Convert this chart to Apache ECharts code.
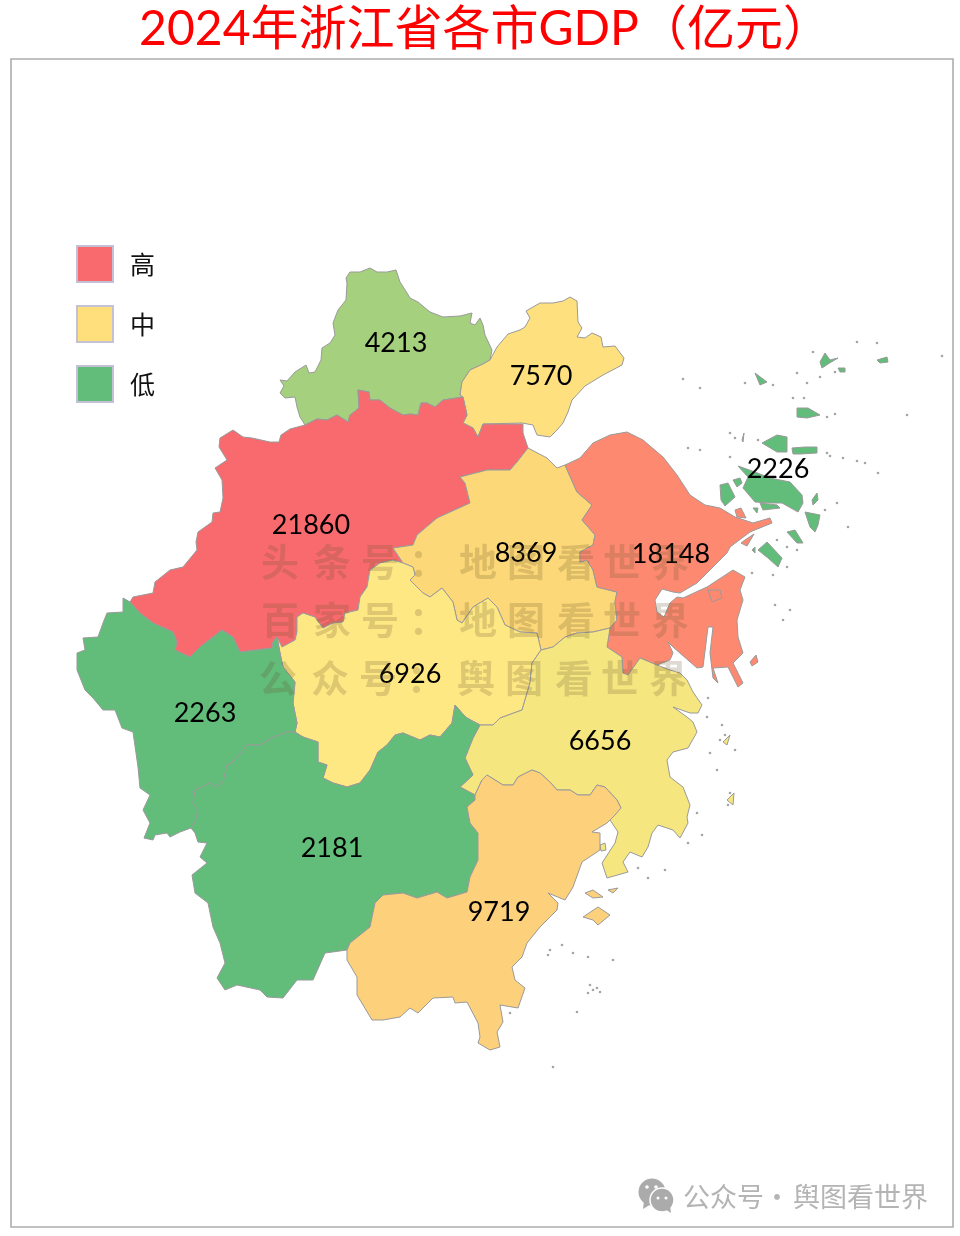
<!DOCTYPE html>
<html>
<head>
<meta charset="utf-8">
<title>2024年浙江省各市GDP</title>
<script src="https://cdn.jsdelivr.net/npm/echarts@6/dist/echarts.min.js"></script>
<style>
  html, body { margin: 0; padding: 0; background: #fff; }
  #main { width: 960px; height: 1236px; }
</style>
</head>
<body>
<div id="main"></div>
<script>
// values
const cities = ['湖州', '嘉兴', '杭州', '绍兴', '宁波', '舟山', '金华', '衢州', '台州', '丽水', '温州'];
const gdp = [4213, 7570, 21860, 8369, 18148, 2226, 6926, 2263, 6656, 2181, 9719];
const levels = ['高', '中', '低'];
const levelColors = ['#F96A6E', '#FEDF7C', '#62BC7A'];
const cityColors = ['#A5D07E', '#FEE07E', '#F96A6E', '#FDD878', '#FD8A70', '#62BC7A', '#FEE884', '#62BC7A', '#F5E680', '#62BC7A', '#FDD07B'];
const labelAt = [[396, 343], [541, 376], [311, 525], [526, 553], [671, 554], [778, 469], [410, 674], [205, 713], [600, 741], [332, 848], [499, 912]];

// boundaries, x / y in page pixels
const coastHu = [[305,425],[300,417],[297,407],[295,397],[285,398],[280,393],[284,386],[280,380],[287,381],[295,372],[306,365],[309,373],[315,372],[321,360],[322,348],[330,343],[335,335],[333,323],[338,310],[346,300],[347,283],[346,278],[350,272],[360,272],[370,268],[377,272],[387,272],[396,270],[400,282],[407,293],[410,298],[418,302],[430,312],[443,317],[460,316],[472,313],[470,323],[475,325],[480,318],[483,325],[485,335],[492,350],[490,360]];
const arcHuJx = [[490,360],[483,364],[470,370],[462,382],[460,395],[463,397]];
const arcHuHz = [[463,397],[443,400],[435,407],[427,403],[421,403],[418,415],[410,414],[403,415],[390,408],[380,400],[370,400],[369,392],[358,390],[359,408],[350,415],[348,422],[337,415],[327,420],[317,419],[305,425]];
const coastJx = [[490,360],[497,347],[508,334],[520,330],[525,327],[530,318],[526,311],[540,303],[553,303],[563,301],[570,297],[577,301],[578,322],[582,328],[577,337],[585,338],[592,333],[601,337],[603,347],[615,346],[624,358],[622,365],[603,375],[585,386],[572,400],[568,412],[563,423],[557,430],[550,437],[537,435],[533,425],[522,423]];
const arcJxHz = [[522,423],[483,424],[478,437],[473,428],[463,423],[467,415],[463,397]];
const coastHzW = [[305,425],[290,429],[281,435],[279,442],[270,442],[252,438],[243,437],[233,430],[220,438],[219,447],[227,460],[215,468],[222,480],[223,498],[220,512],[213,513],[212,522],[198,532],[196,542],[197,550],[183,567],[170,570],[155,582],[153,593],[133,597],[130,602]];
const arcHzQz = [[130,602],[140,613],[153,623],[173,632],[177,642],[175,650],[190,657],[200,647],[222,630],[233,637],[240,652],[272,648],[273,642],[277,637]];
const arcHzJh = [[277,637],[282,647],[295,640],[297,632],[297,617],[303,613],[315,617],[323,628],[333,623],[343,622],[345,613],[358,610],[360,597],[367,587],[370,570],[380,563],[393,560],[403,563]];
const arcHzSx = [[403,563],[393,548],[413,545],[417,535],[437,518],[470,503],[465,483],[460,477],[487,470],[510,470],[517,462],[528,448]];
const coastHzN = [[528,448],[523,433],[523,424],[522,423]];
const arcSxJh = [[403,563],[413,567],[415,575],[410,580],[423,593],[430,597],[442,588],[453,602],[457,620],[462,623],[473,607],[488,598],[497,607],[505,625],[520,632],[537,633],[541,650]];
const arcSxTz = [[541,650],[553,647],[565,637],[577,633],[593,632],[610,628]];
const arcSxNb = [[610,628],[617,620],[615,602],[617,592],[597,587],[593,570],[587,560],[580,562],[580,552],[593,545],[595,535],[582,520],[592,505],[577,492],[565,465]];
const coastSx = [[565,465],[557,468],[547,458],[528,448]];
const coastNb = [[565,465],[580,458],[593,443],[610,435],[627,432],[643,440],[663,457],[677,475],[690,495],[705,505],[720,508],[735,517],[753,523],[770,518],[772,523],[750,532],[730,547],[727,553],[713,567],[697,583],[680,593],[673,592],[662,589],[655,600],[657,612],[664,617],[670,603],[677,597],[683,598],[707,587],[733,570],[745,577],[740,590],[743,600],[737,620],[738,637],[743,653],[733,663],[743,683],[738,687],[728,667],[713,668],[718,683],[713,678],[710,653],[713,627],[708,627],[703,667],[697,668],[673,647],[668,642],[673,653],[670,660],[657,665]];
const arcNbTz = [[657,665],[640,658],[628,675],[623,673],[622,657],[607,647],[610,628]];
const arcJhTz = [[541,650],[532,663],[530,683],[522,710],[500,718],[493,725],[480,725]];
const arcJhLs = [[480,725],[467,718],[462,713],[455,705],[452,723],[440,737],[430,735],[420,740],[403,733],[395,735],[387,745],[378,752],[370,770],[360,783],[347,787],[333,783],[323,778],[327,765],[318,762],[318,742],[303,737],[295,732]];
const arcJhQz = [[295,732],[297,723],[293,703],[295,682],[283,667],[280,653],[277,637]];
const coastQz = [[130,602],[123,598],[123,612],[107,613],[103,623],[98,637],[83,638],[85,650],[77,653],[77,670],[85,690],[93,698],[103,710],[115,710],[122,728],[133,732],[138,767],[140,788],[150,795],[143,810],[150,823],[144,838],[153,840],[155,835],[167,833],[170,837],[180,832],[191,828]];
const arcQzLs = [[191,828],[195,822],[198,810],[193,803],[195,790],[210,783],[217,787],[223,782],[227,765],[233,762],[247,745],[260,745],[272,738],[287,732],[295,732]];
const coastLs = [[191,828],[195,833],[198,842],[207,843],[200,857],[207,863],[192,875],[195,893],[208,903],[213,927],[220,943],[225,963],[217,978],[225,990],[237,985],[260,990],[267,997],[283,998],[297,980],[313,980],[325,953],[347,950]];
const arcLsWz = [[347,950],[350,943],[370,927],[375,903],[383,895],[403,893],[417,898],[437,892],[447,898],[467,892],[470,877],[478,860],[478,833],[470,823],[467,807],[475,800],[475,795]];
const arcLsTz = [[475,795],[460,787],[473,775],[465,758],[473,738],[480,725]];
const coastTz = [[657,665],[670,670],[680,673],[687,680],[693,692],[702,705],[698,713],[690,713],[673,707],[687,717],[693,722],[697,732],[688,748],[673,752],[667,760],[670,777],[683,787],[690,805],[687,817],[688,823],[680,838],[673,830],[658,825],[652,833],[648,847],[642,857],[630,852],[623,862],[628,872],[607,878],[602,863],[615,843],[618,832],[610,820],[615,813],[621,808]];
const arcTzWz = [[621,808],[617,800],[605,787],[597,785],[590,795],[578,795],[570,790],[557,790],[550,782],[540,773],[532,770],[518,777],[513,785],[503,785],[487,775],[482,780],[475,795]];
const coastWz = [[347,950],[347,960],[357,977],[357,995],[372,1020],[383,1020],[400,1017],[410,1008],[418,1013],[433,998],[453,997],[455,1003],[467,1002],[478,1023],[480,1037],[478,1043],[490,1050],[500,1047],[497,1032],[503,1022],[500,1005],[518,1008],[525,988],[515,980],[512,967],[522,957],[527,943],[540,927],[557,910],[558,903],[548,893],[565,900],[573,887],[582,862],[600,850],[600,833],[592,832],[607,823],[615,815],[621,808]];

// islands
const islesZs = [
  [[738,466],[748,477],[743,488],[755,502],[770,503],[782,503],[798,512],[803,503],[802,495],[790,482],[770,478],[755,472]],
  [[762,443],[777,435],[787,437],[787,452],[777,452]],
  [[792,448],[805,447],[817,447],[817,453],[800,454],[793,454]],
  [[720,485],[728,483],[735,497],[725,506],[721,500]],
  [[733,480],[740,478],[742,483],[737,487]],
  [[805,512],[820,515],[818,525],[815,532],[810,527]],
  [[787,532],[795,530],[803,543],[797,543]],
  [[758,550],[767,542],[782,558],[778,567],[768,558]],
  [[797,408],[808,408],[820,415],[807,418],[797,417]],
  [[820,362],[825,353],[830,360],[838,358],[828,364],[822,368]],
  [[755,373],[767,382],[760,385]],
  [[877,360],[887,357],[888,362],[880,363]],
  [[838,368],[845,368],[845,372],[840,372]],
  [[812,500],[817,493],[818,500],[813,505]],
  [[752,550],[755,547],[755,553]],
  [[742,440],[744,433],[743,442]],
  [[753,508],[758,508],[757,513]],
  [[760,503],[777,505],[780,508],[763,510]]
];
const islesNb = [
  [[735,510],[741,508],[746,518],[737,517]],
  [[745,540],[754,534],[747,546],[741,543]],
  [[750,662],[756,655],[758,662],[752,666]]
];
const islesWz = [
  [[585,893],[593,890],[603,897],[593,898]],
  [[608,890],[618,888],[613,893]],
  [[583,917],[598,907],[610,915],[598,925],[593,920]]
];
const islesTz = [
  [[600,845],[605,843],[606,850],[601,851]],
  [[723,742],[730,735],[727,745]],
  [[727,800],[734,793],[733,805]]
];
const holeNb = [[708,590],[720,590],[722,598],[712,602]];
const islets = [[683,379],[700,388],[745,383],[773,385],[807,383],[797,373],[813,352],[820,377],[835,372],[793,398],[804,398],[827,417],[835,414],[907,415],[857,342],[877,343],[730,433],[735,438],[758,440],[730,457],[688,448],[700,450],[830,456],[843,458],[857,461],[865,463],[878,473],[825,510],[837,503],[848,527],[777,540],[787,547],[797,550],[787,567],[773,575],[752,573],[827,453],[942,356],[708,698],[707,717],[722,725],[725,735],[720,740],[735,750],[710,753],[717,770],[730,793],[728,805],[697,813],[688,843],[702,835],[665,870],[648,878],[638,868],[613,960],[593,990],[588,993],[597,988],[573,953],[562,945],[550,950],[548,955],[510,1013],[553,1067],[577,1012],[588,957],[590,985],[600,992],[790,610],[783,620],[775,605]];

// watermark lines
const markLines = ['头条号：地图看世界', '百家号：地图看世界', '公众号：舆图看世界'];
const markCharX = [280, 332, 380, 428, 478, 526, 576, 622, 670];
const markLineY = [562, 620, 678];

function flat(arcs) {
  return arcs.reduce((ring, arc) => ring.concat(arc), []);
}
function rev(arc) {
  return arc.slice().reverse();
}
const rings = [
  [flat([coastHu, arcHuJx, arcHuHz])],
  [flat([coastJx, arcJxHz, rev(arcHuJx)])],
  [flat([coastHzW, arcHzQz, arcHzJh, arcHzSx, coastHzN, arcJxHz, arcHuHz])],
  [flat([rev(arcHzSx), arcSxJh, arcSxTz, arcSxNb, coastSx])],
  [flat([coastNb, arcNbTz, arcSxNb])].concat(islesNb),
  islesZs,
  [flat([arcHzJh, arcSxJh, arcJhTz, arcJhLs, arcJhQz])],
  [flat([rev(arcHzQz), coastQz, arcQzLs, arcJhQz])],
  [flat([rev(arcJhTz), arcSxTz, rev(arcNbTz), coastTz, arcTzWz, arcLsTz])].concat(islesTz),
  [flat([coastLs, arcLsWz, arcLsTz, arcJhLs, rev(arcQzLs)])],
  [flat([coastWz, arcTzWz, rev(arcLsWz)])].concat(islesWz)
];

function toLonLat(p) {
  return [p[0], 1236 - p[1]];
}
const zhejiang = {
  type: 'FeatureCollection',
  features: cities.map((name, i) => ({
    type: 'Feature',
    properties: { name: name, cp: toLonLat(labelAt[i]) },
    geometry: {
      type: 'MultiPolygon',
      coordinates: rings[i].map((ring, k) => {
        const poly = [ring.map(toLonLat)];
        if (name === '宁波' && k === 0) poly.push(holeNb.map(toLonLat));
        return poly;
      })
    }
  }))
};

echarts.registerMap('zhejiang', zhejiang);
const chart = echarts.init(document.getElementById('main'), null, { renderer: 'canvas' });

const bounds = [[0, 1236], [960, 0]];
const markChars = [];
markLines.forEach((line, r) => {
  Array.from(line).forEach((ch, c) => {
    markChars.push({
      type: 'text',
      z: 20,
      silent: true,
      x: markCharX[c] - (r === 2 ? 2 : 0),
      y: markLineY[r],
      style: {
        text: ch,
        fontSize: 38,
        fontWeight: 'bold',
        fontFamily: '"Noto Sans CJK SC"',
        fill: 'rgba(105,85,45,0.22)',
        align: 'center',
        verticalAlign: 'middle'
      }
    });
  });
});

const wechat = [
  { type: 'circle', shape: { cx: 652, cy: 1192, r: 13.5 }, style: { fill: '#ababab' } },
  { type: 'polygon', shape: { points: [[644, 1201], [643, 1209], [653, 1203]] }, style: { fill: '#ababab' } },
  { type: 'circle', shape: { cx: 662, cy: 1200, r: 12 }, style: { fill: '#ababab', stroke: '#fff', lineWidth: 1.5 } },
  { type: 'polygon', shape: { points: [[665, 1209], [671, 1213], [670, 1205]] }, style: { fill: '#ababab' } },
  { type: 'circle', shape: { cx: 647, cy: 1187, r: 1.8 }, style: { fill: '#fff' } },
  { type: 'circle', shape: { cx: 656, cy: 1187, r: 1.8 }, style: { fill: '#fff' } },
  { type: 'circle', shape: { cx: 658, cy: 1198, r: 1.5 }, style: { fill: '#fff' } },
  { type: 'circle', shape: { cx: 666, cy: 1198, r: 1.5 }, style: { fill: '#fff' } }
].map(el => Object.assign(el, { z: 20, silent: true }));

function greyText(text, x, align) {
  return {
    type: 'text',
    z: 20,
    silent: true,
    x: x,
    y: 1197,
    style: {
      text: text,
      fontSize: 27,
      fontFamily: '"Noto Sans CJK SC"',
      fill: '#b4b4b4',
      align: align,
      verticalAlign: 'middle'
    }
  };
}

const option = {
  animation: false,
  backgroundColor: '#fff',
  title: {
    text: '2024年浙江省各市GDP（亿元）',
    left: 480,
    textAlign: 'center',
    top: 1,
    textStyle: {
      color: '#ff0000',
      fontSize: 48,
      fontWeight: 'normal',
      fontFamily: 'Lato, "Noto Sans CJK SC"'
    }
  },
  legend: {
    orient: 'vertical',
    left: 76,
    top: 245,
    padding: 0,
    itemWidth: 36,
    itemHeight: 36,
    itemGap: 22,
    icon: 'rect',
    selectedMode: false,
    data: levels,
    itemStyle: { borderColor: '#c4c0d6', borderWidth: 2, opacity: 1 },
    textStyle: { fontSize: 25, color: '#111', fontFamily: '"Noto Sans CJK SC"', padding: [0, 0, 3, 12] }
  },
  geo: {
    map: 'zhejiang',
    boundingCoords: bounds,
    aspectScale: 1,
    left: 0,
    top: 0,
    width: 960,
    height: 1236,
    silent: true,
    itemStyle: { areaColor: 'transparent', borderWidth: 0 },
    label: { show: false }
  },
  series: [
    {
      type: 'map',
      map: 'zhejiang',
      boundingCoords: bounds,
      aspectScale: 1,
      left: 0,
      top: 0,
      width: 960,
      height: 1236,
      silent: true,
      showLegendSymbol: false,
      z: 3,
      itemStyle: { borderColor: '#9a9a9a', borderWidth: 1 },
      label: {
        show: true,
        formatter: '{c}',
        color: '#000',
        fontSize: 27,
        fontFamily: 'Lato'
      },
      data: cities.map((name, i) => ({
        name: name,
        value: gdp[i],
        itemStyle: { areaColor: cityColors[i] }
      }))
    },
    {
      type: 'scatter',
      coordinateSystem: 'geo',
      silent: true,
      z: 4,
      symbolSize: 2.6,
      itemStyle: { color: '#a5a5a5', opacity: 1 },
      data: islets.map(toLonLat)
    }
  ].concat(levels.map((name, i) => ({
    type: 'scatter',
    coordinateSystem: 'geo',
    name: name,
    itemStyle: { color: levelColors[i], opacity: 1 },
    data: []
  }))),
  graphic: [
    {
      type: 'rect',
      z: 0,
      silent: true,
      shape: { x: 11, y: 59, width: 942, height: 1168 },
      style: { fill: 'none', stroke: '#adadad', lineWidth: 1.6 }
    },
    greyText('公众号', 683, 'left'),
    greyText('·', 777, 'center'),
    greyText('舆图看世界', 793, 'left')
  ].concat(markChars, wechat)
};
chart.setOption(option);
</script>
</body>
</html>
